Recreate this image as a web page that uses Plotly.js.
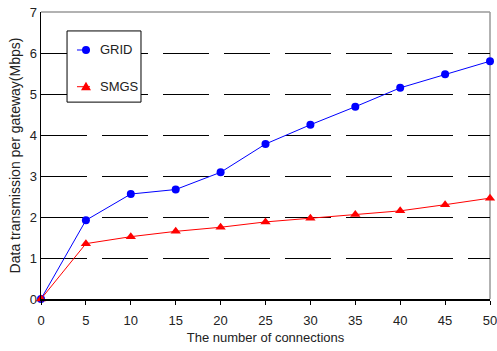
<!DOCTYPE html>
<html>
<head>
<meta charset="utf-8">
<script src="https://cdn.plot.ly/plotly-3.0.1.min.js"></script>
<style>html,body{margin:0;padding:0;background:#fff;}#chart{width:497px;height:351px;}</style>
</head>
<body>
<div id="chart"></div>
<script>
var connections = [0, 5, 10, 15, 20, 25, 30, 35, 40, 45, 50];
var gridValues = [0, 1.92, 2.56, 2.67, 3.09, 3.78, 4.25, 4.69, 5.15, 5.48, 5.80];
var smgsValues = [0, 1.35, 1.52, 1.65, 1.75, 1.88, 1.97, 2.06, 2.15, 2.30, 2.46];
var xTicks = [0, 5, 10, 15, 20, 25, 30, 35, 40, 45, 50];
var yTicks = [0, 1, 2, 3, 4, 5, 6, 7];
var seriesNames = ["GRID", "SMGS"];
var seriesColors = ["#0000ff", "#ff0000"];

var font = "Liberation Sans, Arial, sans-serif";
var traces = [
  {x: connections, y: gridValues, name: seriesNames[0], mode: "lines+markers",
   line: {color: seriesColors[0], width: 1}, marker: {symbol: "circle", size: 8, color: seriesColors[0]}, cliponaxis: false},
  {x: connections, y: smgsValues, name: seriesNames[1], mode: "lines+markers",
   line: {color: seriesColors[1], width: 1}, marker: {symbol: "triangle-up", size: 9, color: seriesColors[1]}, cliponaxis: false}
];

// custom legend (box, symbol samples, labels) in paper coordinates
var lgX0 = 0.058, lgX1 = 0.2227, lgY0 = 0.686, lgY1 = 0.934;
var rowY = [0.8676, 0.7397];
var symX = 0.1002, textX = 0.1263;
var shapes = [
  {type: "line", xref: "paper", yref: "paper", x0: 0, x1: 1, y0: 1, y1: 1, line: {color: "#999", width: 1.5}, layer: "above"},
  {type: "line", xref: "paper", yref: "paper", x0: 1, x1: 1, y0: 0, y1: 1, line: {color: "#999", width: 1.5}, layer: "below"},
  {type: "rect", xref: "paper", yref: "paper", x0: lgX0, x1: lgX1, y0: lgY0, y1: lgY1,
   line: {color: "#000", width: 1}, fillcolor: "#fff", layer: "above"}
];
var annotations = [];
for (var i = 0; i < 2; i++) {
  shapes.push({type: "line", xref: "paper", yref: "paper", xsizemode: "pixel", xanchor: symX,
               x0: -9, x1: 4, y0: rowY[i], y1: rowY[i], line: {color: seriesColors[i], width: 1}, layer: "above"});
  if (i === 0) {
    shapes.push({type: "circle", xref: "paper", yref: "paper", xsizemode: "pixel", ysizemode: "pixel",
                 xanchor: symX, yanchor: rowY[i], x0: -4, x1: 4, y0: -4, y1: 4,
                 line: {color: seriesColors[i], width: 0}, fillcolor: seriesColors[i], layer: "above"});
  } else {
    shapes.push({type: "path", xref: "paper", yref: "paper", xsizemode: "pixel", ysizemode: "pixel",
                 xanchor: symX, yanchor: rowY[i], path: "M -5,-3.5 L 5,-3.5 L 0,5 Z",
                 line: {color: seriesColors[i], width: 0}, fillcolor: seriesColors[i], layer: "above"});
  }
  annotations.push({xref: "paper", yref: "paper", x: textX, y: rowY[i], xanchor: "left", yanchor: "middle",
                    text: seriesNames[i], showarrow: false, font: {family: font, size: 13, color: "#222"}});
}

var layout = {
  width: 497, height: 351,
  margin: {l: 41, r: 7, t: 12, b: 52},
  paper_bgcolor: "#fff", plot_bgcolor: "#fff",
  font: {family: font, color: "#222", size: 13},
  showlegend: false,
  xaxis: {range: [0, 50], tickvals: xTicks, showgrid: false, zeroline: false, showline: true, linecolor: "#000", linewidth: 1.5,
          ticks: "outside", ticklen: 4, tickcolor: "#000", tickfont: {size: 13, color: "#222"},
          ticklabelstandoff: 5, ticklabeloverflow: "allow",
          title: {text: "The number of connections", font: {size: 13, color: "#222"}, standoff: 6}},
  yaxis: {range: [0, 7], tickvals: yTicks, showgrid: true, gridcolor: "#000", gridwidth: 1, griddash: "46px,15px",
          zeroline: false, showline: true, linecolor: "#000", linewidth: 1.5, ticks: "", ticklen: 0,
          tickfont: {size: 13, color: "#222"},
          title: {text: "Data transmission per gateway(Mbps)", font: {size: 14, color: "#222"}, standoff: 6}},
  shapes: shapes,
  annotations: annotations
};
Plotly.newPlot("chart", traces, layout, {staticPlot: true});
</script>
</body>
</html>
